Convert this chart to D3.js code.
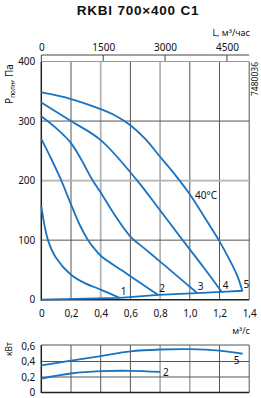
<!DOCTYPE html>
<html>
<head>
<meta charset="utf-8">
<script src="https://cdn.jsdelivr.net/npm/d3@7"></script>
<style>
	body { margin: 0; background: #fff; }
	text { font-family: "Noto Sans", sans-serif; fill: #111; }
</style>
</head>
<body>
<script>
// flow in m3/s, pressure in Pa, power in kW
var flowTicks = [0, 0.2, 0.4, 0.6, 0.8, 1.0, 1.2, 1.4];
var flowTickLabels = ["0", "0,2", "0,4", "0,6", "0,8", "1,0", "1,2", "1,4"];
var hourTicks = [0, 1500, 3000, 4500];
var presTicks = [0, 100, 200, 300, 400];
var powTicks = [0, 0.2, 0.4, 0.6];
var powTickLabels = ["0", "0,2", "0,4", "0,6"];

var curve1 = [[0,157],[0.045,100],[0.1,70],[0.2,42],[0.3,27],[0.4,17],[0.528,3]];
var curve2 = [[0,270],[0.07,235],[0.135,200],[0.2,160],[0.26,125],[0.315,100],[0.36,85],[0.404,73],[0.55,48],[0.685,25],[0.788,8]];
var curve3 = [[0,308],[0.1,288],[0.2,263],[0.27,235],[0.337,204],[0.4,180],[0.5,140],[0.6,106],[0.7,85],[0.8,64],[0.9,43],[1.046,12]];
var curve4 = [[0,331],[0.2,300],[0.4,268],[0.646,200],[0.8,150],[0.952,100],[1.1,52],[1.215,13]];
var curve5 = [[0,348],[0.2,337],[0.4,320],[0.5,309],[0.6,293],[0.7,270],[0.8,240],[0.9,210],[1.0,177],[1.1,138],[1.2,98],[1.27,66],[1.32,40],[1.355,14]];
var sysLine = [[0,0],[0.528,3],[0.788,8],[1.046,11],[1.215,13],[1.355,15]];
var curveNames = ["1","2","3","4","5"];

var power2 = [[0,0.18],[0.2,0.245],[0.4,0.275],[0.6,0.28],[0.8,0.265]];
var power5 = [[0,0.35],[0.2,0.41],[0.4,0.47],[0.6,0.53],[0.8,0.555],[1.0,0.56],[1.2,0.54],[1.356,0.50]];

var W = 261, H = 398;
var blue = "#1874c2";

var svg = d3.select("body").append("svg")
	.attr("width", W)
	.attr("height", H);

var x = d3.scaleLinear().domain([0, 1.4]).range([41.3, 249.2]);
var xTop = d3.scaleLinear().domain([0, 1.4*3600]).range(x.range());
var y = d3.scaleLinear().domain([0, 400]).range([299.7, 61.5]);
var yPow = d3.scaleLinear().domain([0, 0.6]).range([392.5, 346]);

//title
svg.append("text")
	.attr("x", 138).attr("y", 15)
	.attr("text-anchor", "middle")
	.style("font-family", "'Liberation Sans', sans-serif")
	.style("font-weight", "bold")
	.style("font-size", "13.5px")
	.style("letter-spacing", "0.8px")
	.text("RKBI 700×400 C1");

svg.append("text")
	.attr("x", 250).attr("y", 36)
	.attr("text-anchor", "end")
	.style("font-size", "9px")
	.text("L, м³/час");

//top axis (m3/h)
var gTop = svg.append("g").attr("transform", "translate(0,55)");
gTop.call(d3.axisTop(xTop).tickValues(hourTicks).tickSize(0).tickPadding(4).tickFormat(d3.format("d")));
gTop.select(".domain").remove();
gTop.selectAll("text").style("font-size", "10px").style("font-family", "'Noto Sans', sans-serif").attr("fill", "#111");
gTop.append("line")
	.attr("x1", x(0)).attr("x2", x(1.4))
	.attr("stroke", "#444").attr("stroke-width", 1);
gTop.selectAll(".tk")
	.data(hourTicks)
.enter().append("line")
	.attr("class", "tk")
	.attr("x1", function(d){ return xTop(d); })
	.attr("x2", function(d){ return xTop(d); })
	.attr("y1", 0).attr("y2", 6)
	.attr("stroke", "#444");

//main grid
function isLight(d){ return Math.abs(d-0.4) < 1e-6 || Math.abs(d-0.8) < 1e-6; }
var grid = svg.append("g");
grid.selectAll(".vg")
	.data(flowTicks.slice(1))
.enter().append("line")
	.attr("class", "vg")
	.attr("x1", function(d){ return x(d); })
	.attr("x2", function(d){ return x(d); })
	.attr("y1", y(400)).attr("y2", y(0))
	.attr("stroke", function(d){ return isLight(d) ? "#b4b4b4" : "#555"; })
	.attr("stroke-width", function(d){ return isLight(d) ? 1.8 : 1; });
grid.selectAll(".hg")
	.data(presTicks.slice(1))
.enter().append("line")
	.attr("class", "hg")
	.attr("x1", x(0)).attr("x2", x(1.4))
	.attr("y1", function(d){ return y(d); })
	.attr("y2", function(d){ return y(d); })
	.attr("stroke", function(d){ return d == 200 ? "#b4b4b4" : (d == 400 ? "#999" : "#555"); })
	.attr("stroke-width", function(d){ return d == 200 ? 1.8 : 1; });
grid.append("line")
	.attr("x1", x(0)).attr("x2", x(0))
	.attr("y1", y(400)).attr("y2", y(0)+1)
	.attr("stroke", "#222").attr("stroke-width", 1.5);
grid.append("line")
	.attr("x1", x(0)).attr("x2", x(1.4))
	.attr("y1", y(0)).attr("y2", y(0))
	.attr("stroke", "#222").attr("stroke-width", 1.5);

//axes labels
var gLeft = svg.append("g").attr("transform", "translate(" + x(0) + ",0)");
gLeft.call(d3.axisLeft(y).tickValues(presTicks).tickSize(0).tickPadding(6));
gLeft.select(".domain").remove();
gLeft.selectAll("text").style("font-size", "10px").style("font-family", "'Noto Sans', sans-serif").attr("fill", "#111");

var gBot = svg.append("g").attr("transform", "translate(0," + (y(0)+4) + ")");
gBot.call(d3.axisBottom(x).tickValues(flowTicks).tickSize(0).tickPadding(6)
	.tickFormat(function(d,i){ return flowTickLabels[i]; }));
gBot.select(".domain").remove();
gBot.selectAll("text").style("font-size", "10px").style("font-family", "'Noto Sans', sans-serif").attr("fill", "#111");

var yl = svg.append("text")
	.attr("transform", "translate(13,84) rotate(-90)")
	.attr("text-anchor", "middle")
	.style("font-size", "10px");
yl.append("tspan").text("P");
yl.append("tspan").attr("dy", 2).style("font-size", "6.5px").text("полн");
yl.append("tspan").attr("dy", -2).text(", Па");

svg.append("text")
	.attr("transform", "translate(258,79) rotate(-90)")
	.attr("text-anchor", "middle")
	.style("font-size", "8.5px")
	.text("7480036");

//curves
var line = d3.line()
	.x(function(d){ return x(d[0]); })
	.y(function(d){ return y(d[1]); })
	.curve(d3.curveCatmullRom.alpha(0.5));
var straight = d3.line()
	.x(function(d){ return x(d[0]); })
	.y(function(d){ return y(d[1]); });

var curves = [curve1, curve2, curve3, curve4, curve5];
svg.append("g").selectAll(".fan")
	.data(curves.concat([sysLine]))
.enter().append("path")
	.attr("class", "fan")
	.attr("d", function(d, i){ return i == 5 ? straight(d) : line(d); })
	.attr("fill", "none")
	.attr("stroke", blue)
	.attr("stroke-width", 1.8);

svg.append("g").selectAll(".clab")
	.data(curves)
.enter().append("text")
	.attr("class", "clab")
	.attr("x", function(d){ return x(d[d.length-1][0]) + 1; })
	.attr("y", function(d){ return y(d[d.length-1][1]) - 3; })
	.style("font-size", "10px")
	.text(function(d, i){ return curveNames[i]; });

svg.append("text")
	.attr("x", 195).attr("y", 199)
	.style("font-size", "10px")
	.text("40°C");

svg.append("text")
	.attr("x", 250).attr("y", 334)
	.attr("text-anchor", "end")
	.style("font-size", "9px")
	.text("м³/с");

//power panel
function isLightP(d){ return Math.abs(d-0.8) < 1e-6 || Math.abs(d-1.0) < 1e-6; }
var pg = svg.append("g");
pg.selectAll(".pv")
	.data(flowTicks.slice(1))
.enter().append("line")
	.attr("class", "pv")
	.attr("x1", function(d){ return x(d); })
	.attr("x2", function(d){ return x(d); })
	.attr("y1", yPow(0.6)-1).attr("y2", yPow(0))
	.attr("stroke", function(d){ return isLightP(d) ? "#aaa" : "#555"; })
	.attr("stroke-width", function(d){ return isLightP(d) ? 1.6 : 1; });
pg.selectAll(".ph")
	.data(powTicks.slice(1))
.enter().append("line")
	.attr("class", "ph")
	.attr("x1", x(0)).attr("x2", x(1.4))
	.attr("y1", function(d, i){ return i == 2 ? yPow(d)-1 : yPow(d); })
	.attr("y2", function(d, i){ return i == 2 ? yPow(d)-1 : yPow(d); })
	.attr("stroke", "#555").attr("stroke-width", 1);
pg.append("line")
	.attr("x1", x(0)).attr("x2", x(0))
	.attr("y1", yPow(0.6)-1).attr("y2", yPow(0)+0.5)
	.attr("stroke", "#222").attr("stroke-width", 1.5);
pg.append("line")
	.attr("x1", x(0)).attr("x2", x(1.4))
	.attr("y1", yPow(0)).attr("y2", yPow(0))
	.attr("stroke", "#222").attr("stroke-width", 1.5);

var gPow = svg.append("g").attr("transform", "translate(" + x(0) + ",0)");
gPow.call(d3.axisLeft(yPow).tickValues(powTicks).tickSize(0).tickPadding(6)
	.tickFormat(function(d,i){ return powTickLabels[i]; }));
gPow.select(".domain").remove();
gPow.selectAll("text").style("font-size", "10px").style("font-family", "'Noto Sans', sans-serif").attr("fill", "#111");

svg.append("text")
	.attr("transform", "translate(12,349) rotate(-90)")
	.attr("text-anchor", "middle")
	.style("font-size", "8.5px")
	.text("кВт");

var pline = d3.line()
	.x(function(d){ return x(d[0]); })
	.y(function(d){ return yPow(d[1]); })
	.curve(d3.curveCatmullRom.alpha(0.5));

svg.append("g").selectAll(".pw")
	.data([power2, power5])
.enter().append("path")
	.attr("class", "pw")
	.attr("d", pline)
	.attr("fill", "none")
	.attr("stroke", blue)
	.attr("stroke-width", 1.8);

svg.append("text")
	.attr("x", x(0.8) + 3).attr("y", yPow(0.265) + 4)
	.style("font-size", "10px")
	.text("2");
svg.append("text")
	.attr("x", x(1.356) - 9).attr("y", yPow(0.5) + 10)
	.style("font-size", "10px")
	.text("5");
</script>
</body>
</html>
